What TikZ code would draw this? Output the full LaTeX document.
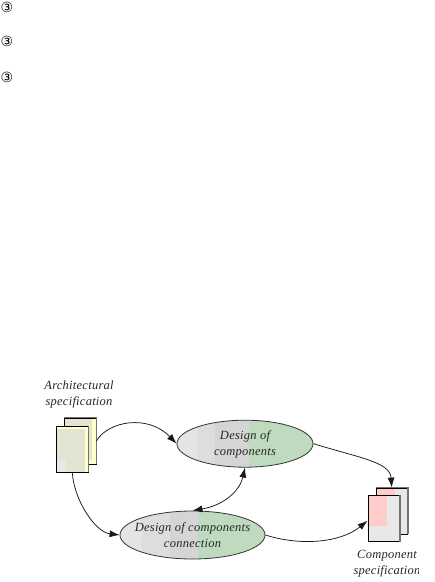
\documentclass[tikz,border=0pt]{standalone}
\usepackage{fontspec}
\setmainfont{Liberation Serif}
\newfontfamily\lblfont[LetterSpace=2.0]{Liberation Serif}
\newfontfamily\symfont{DejaVu Sans}
\usetikzlibrary{arrows.meta,shapes.geometric}
\definecolor{bandA}{HTML}{E4E4E4}
\definecolor{bandB}{HTML}{DDDDDD}
\definecolor{bandC}{HTML}{D5D5D5}
\definecolor{bandG}{HTML}{BFDABF}
\definecolor{paper}{HTML}{FFFFCC}
\definecolor{paperin}{HTML}{E4E4D2}
\definecolor{sheet}{HTML}{E8E8E8}
\definecolor{rosy}{HTML}{FFCCCC}
\tikzset{
  lbl/.style={font=\lblfont\itshape\fontsize{12.5}{16}\selectfont,text=black!85,align=center,inner sep=0pt},
  bullet/.style={font=\symfont\fontsize{14}{14}\selectfont,inner sep=0pt},
  blob/.style={ellipse,draw=black!80,line width=0.8pt,minimum width=#1,inner sep=0pt},
  docbox/.style={rectangle,draw=black,line width=0.8pt,minimum width=31.5pt,minimum height=46pt,inner sep=0pt},
  rim/.style={draw=black!55,line width=1.3pt},
  flow/.style={draw=black!90,line width=0.75pt,-{Latex[length=10pt,width=7pt]}},
  flowboth/.style={draw=black!90,line width=0.75pt,{Latex[length=10pt,width=7pt]}-{Latex[length=10pt,width=7pt]}}
}
\begin{document}
\begin{tikzpicture}[x=1pt,y=-1pt]
\useasboundingbox (0,0) rectangle (435,582);
\node[bullet] (b1) at (7,7) {③};
\node[bullet] (b2) at (7,41) {③};
\node[bullet] (b3) at (7,77) {③};

% input documents (path picture coordinates are relative to the node centre)
\node[docbox,fill=paper,path picture={
   \fill[paperin] (-16,-23) rectangle (11.5,19);}] (a2) at (80.25,441) {};
\draw[rim] (a2.north west) -- (a2.north east) -- (a2.south east);
\node[docbox,fill=paper,path picture={
   \fill[paperin] (-16,-20) rectangle (12.5,23);
   \fill[sheet] (-16,11) rectangle (-6.25,23);}] (a1) at (72.25,449) {};
\draw[rim] (a1.north east) -- (a1.south east);

% output documents
\node[docbox,fill=sheet,path picture={
   \fill[rosy] (-16,-23) rectangle (3.25,-10);}] (c2) at (391.75,511) {};
\draw[rim] (c2.north west) -- (c2.north east) -- (c2.south east);
\node[docbox,fill=sheet,path picture={
   \fill[rosy] (-16,-23) rectangle (3.25,7.5);}] (c1) at (383.75,518.5) {};
\draw[rim] (c1.north east) -- (c1.south east);

% processes
\node[blob=136pt,minimum height=47pt,path picture={
   \fill[bandA] (-75,-30) rectangle (-47,30);
   \fill[bandB] (-47,-30) rectangle (-30,30);
   \fill[bandC] (-30,-30) rectangle (4,30);
   \fill[bandG] (4,-30) rectangle (75,30);}] (e1) at (245,443.7) {};
\node[lbl] (t1) at (245,444.5) {Design of\\components};
\node[blob=145pt,minimum height=48pt,path picture={
   \fill[bandA] (-80,-30) rectangle (-50.5,30);
   \fill[bandB] (-50.5,-30) rectangle (-22.5,30);
   \fill[bandC] (-22.5,-30) rectangle (5.5,30);
   \fill[bandG] (5.5,-30) rectangle (80,30);}] (e2) at (192.5,535) {};
\node[lbl] (t2) at (192.5,535) {Design of components\\connection};

% labels
\node[lbl] (l1) at (79,394.5) {Architectural\\specification};
\begin{scope}
\clip (340,540) rectangle (418,582);
\node[lbl] (l2) at (387,563.5) {Component\\specification};
\end{scope}

% connectors
\draw[flow] (a2.east) .. controls (108,421) and (148,414) .. (e1.west);
\draw[flow] (a1.south) .. controls (74,500) and (95,532) .. (e2.west);
\draw[flow] (e1.east) .. controls (360,458) and (390,462) .. (c2.north);
\draw[flow] (e2.east) .. controls (300,546) and (340,543) .. (c1.west |- 0,520.7);
\draw[flowboth] (e1.south) .. controls (240,490) and (225,505) .. (e2.north);
\end{tikzpicture}
\end{document}
